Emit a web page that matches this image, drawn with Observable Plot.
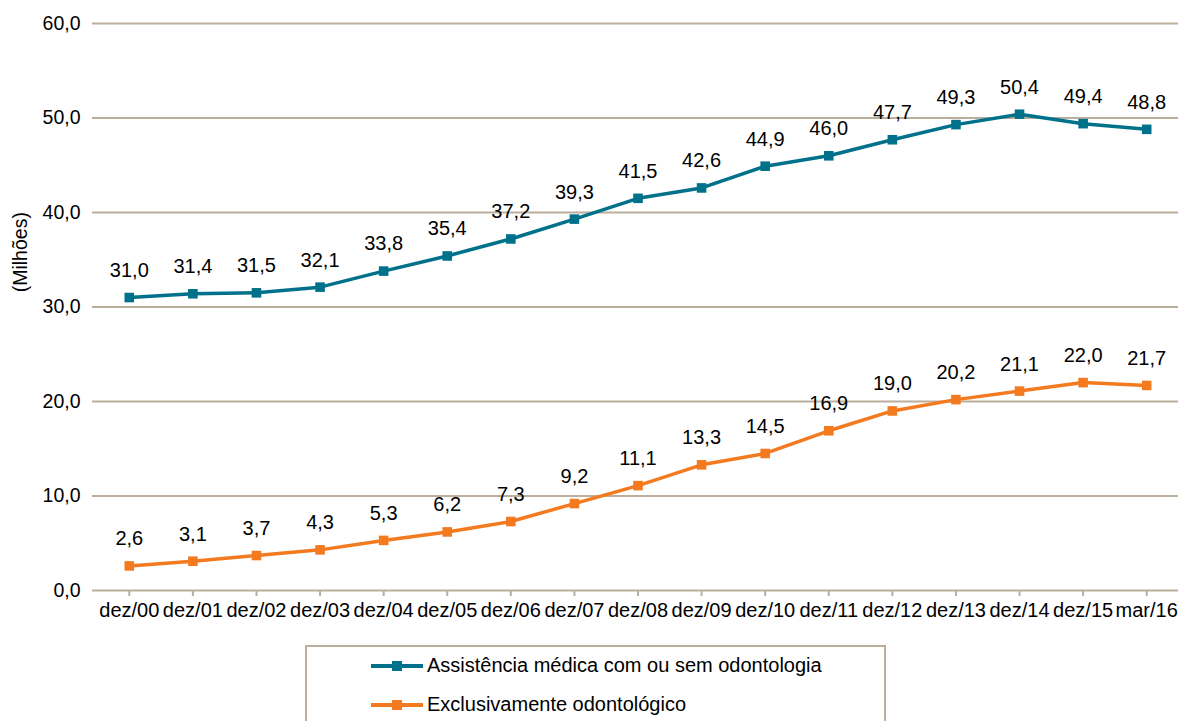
<!DOCTYPE html>
<html>
<head>
<meta charset="utf-8">
<script src="https://cdn.jsdelivr.net/npm/d3@7"></script>
<script src="https://cdn.jsdelivr.net/npm/@observablehq/plot@0.6"></script>
<style>
  html, body { margin: 0; padding: 0; background: #fff; }
  body { width: 1178px; height: 721px; overflow: hidden; font-family: "Liberation Sans", Arial, sans-serif; }
  #legend {
    position: absolute; left: 305px; top: 645px; width: 581px; height: 90px;
    border: 2px solid #BBAE9C; box-sizing: border-box; background: #fff;
  }
  .row { position: absolute; left: 63px; display: flex; align-items: center; font-size: 20px; color: #000; }
  .row svg { margin-right: 3px; }
</style>
</head>
<body>
<div id="chart"></div>
<div id="legend"></div>
<script>
// Period labels (end of year, last one March 2016)
const periods = ["dez/00","dez/01","dez/02","dez/03","dez/04","dez/05","dez/06","dez/07","dez/08","dez/09","dez/10","dez/11","dez/12","dez/13","dez/14","dez/15","mar/16"];
// Beneficiaries in millions
const medica = [31.0,31.4,31.5,32.1,33.8,35.4,37.2,39.3,41.5,42.6,44.9,46.0,47.7,49.3,50.4,49.4,48.8];
const odonto = [2.6,3.1,3.7,4.3,5.3,6.2,7.3,9.2,11.1,13.3,14.5,16.9,19.0,20.2,21.1,22.0,21.7];
const seriesNames = ["Assistência médica com ou sem odontologia", "Exclusivamente odontológico"];
const yTicks = [0,10,20,30,40,50,60];

const colors = ["#00718A", "#F47A20"];
const grid = "#BBAE9C";
const fmt = v => v.toFixed(1).replace(".", ",");

const rows = [
  ...periods.map((p, i) => ({period: p, value: medica[i], series: seriesNames[0]})),
  ...periods.map((p, i) => ({period: p, value: odonto[i], series: seriesNames[1]}))
];

const chart = Plot.plot({
  width: 1178,
  height: 625,
  marginTop: 23,
  marginBottom: 35,
  marginLeft: 97,
  marginRight: 0,
  style: {fontFamily: "'Liberation Sans', Arial, sans-serif", fontSize: "20px", color: "#000", background: "#fff"},
  x: {type: "point", domain: periods, padding: 0.5, round: false, label: null},
  y: {domain: [0, 60], label: null},
  color: {domain: seriesNames, range: colors},
  marks: [
    Plot.gridY(yTicks, {stroke: grid, strokeOpacity: 1, strokeWidth: 2}),
    Plot.axisY(yTicks, {tickFormat: fmt, tickSize: 5, tickPadding: 12, stroke: grid, strokeWidth: 2, fontSize: 19.5, label: null}),
    Plot.ruleX([0], {frameAnchor: "left", stroke: grid, strokeWidth: 2}),
    Plot.axisX({tickSize: 6, tickPadding: 6, stroke: grid, strokeWidth: 2, fontSize: 20, label: null}),
    Plot.text(["(Milhões)"], {frameAnchor: "left", y: [35.8], text: d => d, rotate: -90, textAnchor: "middle", dx: -77, fontSize: 19.5}),
    Plot.line(rows, {x: "period", y: "value", z: "series", stroke: "series", strokeWidth: 3.5, curve: "linear"}),
    Plot.dot(rows, {x: "period", y: "value", fill: "series", symbol: "square", r: 5.4, stroke: null}),
    Plot.text(rows, {x: "period", y: "value", text: d => fmt(d.value), dy: -27, fontSize: 20})
  ]
});
document.getElementById("chart").appendChild(chart);

// Legend entries
const legend = document.getElementById("legend");
seriesNames.forEach((name, i) => {
  const row = document.createElement("div");
  row.className = "row";
  row.style.top = (i === 0 ? 7 : 46) + "px";
  row.innerHTML = `<svg width="54" height="12"><line x1="1" y1="6" x2="53" y2="6" stroke="${colors[i]}" stroke-width="4"/><rect x="22" y="1" width="10" height="10" fill="${colors[i]}"/></svg><span>${name}</span>`;
  legend.appendChild(row);
});
</script>
</body>
</html>
